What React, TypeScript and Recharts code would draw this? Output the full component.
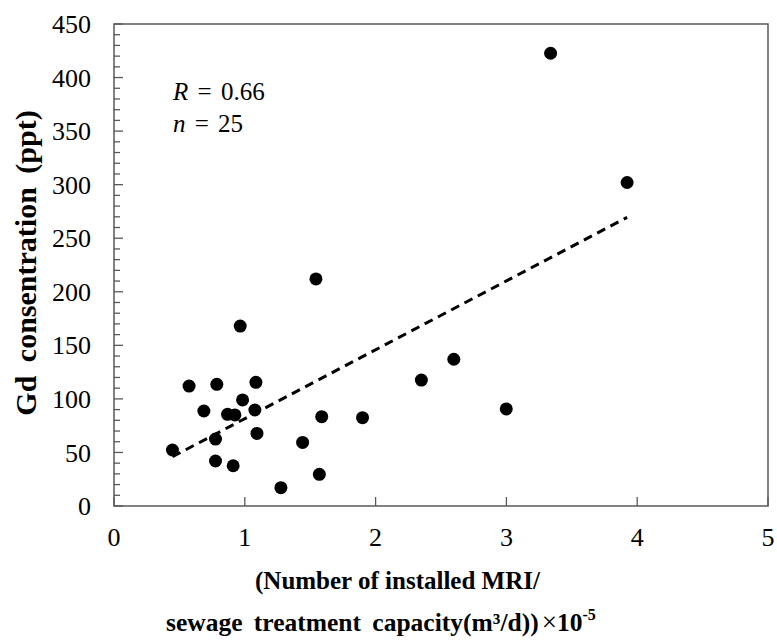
import { ScatterChart, Scatter, XAxis, YAxis, ReferenceArea, Customized } from 'recharts';

const mriPerCapacity = [
  1.544, 0.965, 0.574, 0.786, 1.085, 0.983, 0.687, 0.868, 0.924, 1.077, 1.588, 1.9, 1.093,
  0.776, 1.442, 0.447, 0.776, 0.911, 1.57, 1.276, 3.338, 3.923, 2.598, 2.35, 2.999,
];
const gdPpt = [
  212, 168, 112, 113.6, 115.5, 99, 88.7, 85.6, 85, 89.6, 83.4, 82.5, 67.8,
  62.5, 59.4, 52.3, 42, 37.6, 29.6, 17.1, 422.7, 302, 137, 117.6, 90.6,
];
const trendX = [0.447, 3.923];
const trendY = [46, 269.5];
const xTicks = [0, 1, 2, 3, 4, 5];
const yTicks = Array.from({ length: 46 }, (_, i) => i * 10);

const points = mriPerCapacity.map((x, i) => ({ x, y: gdPpt[i] }));
const trend = trendX.map((x, i) => ({ x, y: trendY[i] }));

const serif = { fontFamily: "'Liberation Serif', 'DejaVu Serif', serif" };

function YTick(props: any) {
  const { x, y, payload } = props;
  const v = payload.value as number;
  const major = v % 50 === 0;
  return (
    <g>
      <line x1={x} x2={x + (major ? 9 : 6)} y1={y} y2={y} stroke="#595959" strokeWidth={1.3} />
      {major && (
        <text x={x - 23} y={y} dy="0.35em" textAnchor="end" style={serif} fontSize={26} fill="#000">
          {v}
        </text>
      )}
    </g>
  );
}

function XTick(props: any) {
  const { x, y, payload } = props;
  return (
    <g>
      <line x1={x} x2={x} y1={y} y2={y - 9} stroke="#595959" strokeWidth={1.3} />
      <text x={x} y={y + 40} textAnchor="middle" style={serif} fontSize={26} fill="#000">
        {payload.value}
      </text>
    </g>
  );
}

function Dot(props: any) {
  return <circle cx={props.cx} cy={props.cy} r={6.5} fill="#000" />;
}

function Labels() {
  return (
    <g fill="#000">
      <text x={173} y={100} fontSize={25} wordSpacing={3} style={serif}>
        <tspan fontStyle="italic">R</tspan> = 0.66
      </text>
      <text x={173} y={132} fontSize={25} wordSpacing={3} style={serif}>
        <tspan fontStyle="italic">n</tspan> = 25
      </text>
      <text
        x={0}
        y={0}
        transform="translate(36 263) rotate(-90)"
        textAnchor="middle"
        fontSize={30}
        fontWeight="bold"
        wordSpacing={6}
        style={serif}
      >
        Gd consentration (ppt)
      </text>
      <text x={255} y={589} fontSize={25} fontWeight="bold" style={serif}>
        (Number of installed MRI/
      </text>
      <text x={166} y={631} fontSize={25.5} fontWeight="bold" wordSpacing={5} style={serif}>
        sewage treatment capacity(m³/d))
        <tspan dx={3} fontWeight="normal" fontSize={27}>×</tspan>
        <tspan>10</tspan>
        <tspan fontSize={16} dy={-11}>-5</tspan>
      </text>
    </g>
  );
}

export default function App() {
  return (
    <div style={{ position: 'absolute', left: 0, top: 0, background: '#fff' }}>
      <ScatterChart width={777} height={644} margin={{ top: 24, right: 9, bottom: 0, left: 0 }}>
        <XAxis
          type="number"
          dataKey="x"
          domain={[0, 5]}
          ticks={xTicks}
          axisLine={false}
          tickLine={false}
          tickSize={0}
          tickMargin={0}
          tick={<XTick />}
          height={138}
          allowDataOverflow
        />
        <YAxis
          type="number"
          dataKey="y"
          domain={[0, 450]}
          ticks={yTicks}
          interval={0}
          axisLine={false}
          tickLine={false}
          tickSize={0}
          tickMargin={0}
          tick={<YTick />}
          width={114}
          allowDataOverflow
        />
        <ReferenceArea x1={0} x2={5} y1={0} y2={450} fill="none" stroke="#595959" strokeWidth={1.5} />
        <Scatter
          data={trend}
          line={{ stroke: '#000', strokeWidth: 3, strokeDasharray: '9 6' }}
          shape={() => <g />}
          isAnimationActive={false}
        />
        <Scatter data={points} shape={<Dot />} isAnimationActive={false} />
        <Customized component={Labels} />
      </ScatterChart>
    </div>
  );
}
